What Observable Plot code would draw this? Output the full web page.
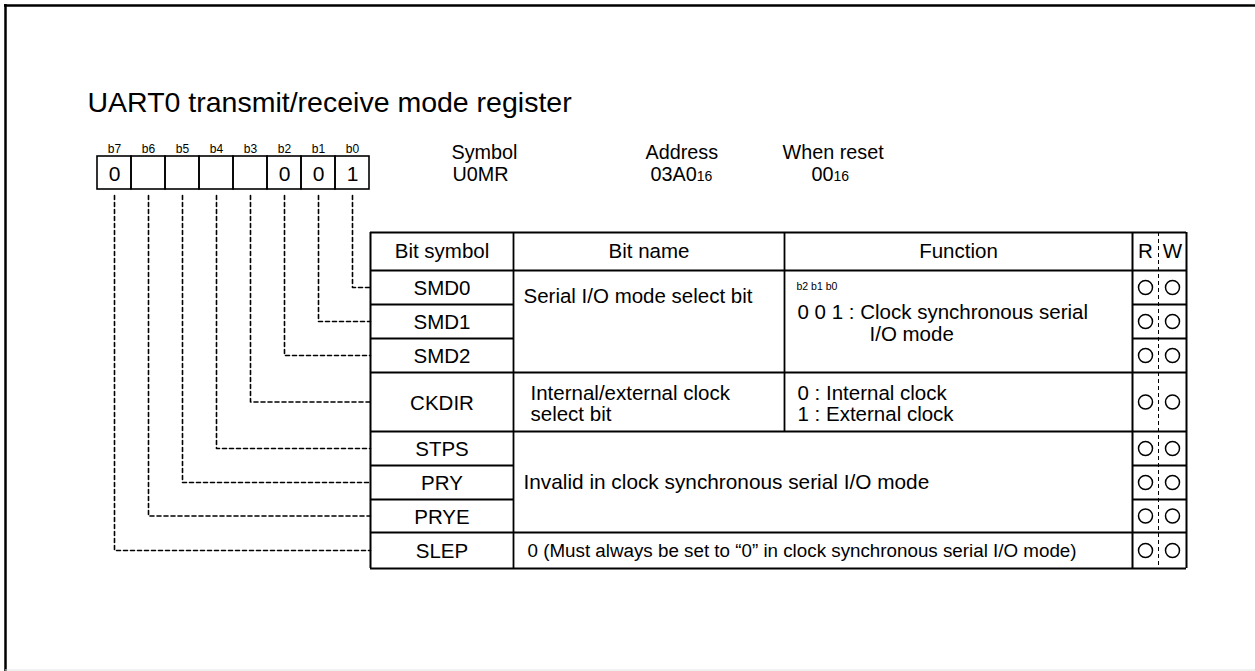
<!DOCTYPE html>
<html>
<head>
<meta charset="utf-8">
<script src="https://cdn.jsdelivr.net/npm/d3@7"></script>
<script src="https://cdn.jsdelivr.net/npm/@observablehq/plot@0.6"></script>
<style>
  html, body { margin: 0; padding: 0; background: #fff; }
  #chart svg { display: block; }
</style>
</head>
<body>
<div id="chart"></div>
<script>
// ---------------- data ----------------
const titleText = "UART0 transmit/receive mode register";
const bitLabels = ["b7", "b6", "b5", "b4", "b3", "b2", "b1", "b0"];
const bitValues = ["0", "", "", "", "", "0", "0", "1"];
const infoHeads = ["Symbol", "Address", "When reset"];
const infoValues = ["U0MR", "03A0", "00"];
const infoSubs = ["", "16", "16"];
const columnHeads = ["Bit symbol", "Bit name", "Function", "R", "W"];
const bitSymbols = ["SMD0", "SMD1", "SMD2", "CKDIR", "STPS", "PRY", "PRYE", "SLEP"];
const symbolBits = ["b0", "b1", "b2", "b3", "b4", "b5", "b6", "b7"];
const readable = [true, true, true, true, true, true, true, true];
const writable = [true, true, true, true, true, true, true, true];
const nameGroups = [[0, 2], [3, 3], [4, 6], [7, 7]];
const nameTexts = [
  ["Serial I/O mode select bit"],
  ["Internal/external clock", "select bit"],
  ["Invalid in clock synchronous serial I/O mode"],
  ["0 (Must always be set to \u201c0\u201d in clock synchronous serial I/O mode)"]
];
const spansFunction = [false, false, true, true];
const functionHeads = ["b2 b1 b0", "", "", ""];
const functionTexts = [
  ["0 0 1 : Clock synchronous serial", "I/O mode"],
  ["0 : Internal clock", "1 : External clock"],
  [],
  []
];

// ---------------- layout ----------------
const W = 1255, H = 671;
const FONT = "'Liberation Sans', Arial, Helvetica, sans-serif";
const L = {
  frame: {x: 5, y: 5, bottom: 669.5},
  title: {x: 87, y: 102, size: 28.5},
  reg: {x0: 97, cell: 34, top: 156, bottom: 189, labelY: 149, labelSize: 12, valueSize: 21},
  info: {x: [451, 645, 782], valueDx: [1, 5, 29], headY: 152.5, valueY: 174, size: 19.8, subSize: 14},
  table: {
    cols: [370, 513, 784, 1132, 1158, 1186],
    top: 232,
    rows: [270, 304, 338, 372, 431, 465, 499, 532, 568],
    size: 20.5
  },
  nameX: [523, 530, 523, 527],
  nameSize: [20.5, 20.5, 20.8, 18.8],
  nameDy: [[26], [21, 42], [51], [18]],
  funcX: [[797, 869], [797, 797]],
  funcDy: [[41.5, 64], [21, 42]],
  funcHead: {dx: 12, dy: 16, size: 10.5},
  connectorTop: 195,
  dotR: 7
};

// ---------------- derived geometry ----------------
const T = L.table;
const [cSym, cName, cFunc, cR, cRW, cEnd] = T.cols;
const rowTop = i => T.rows[i];
const rowBot = i => T.rows[i + 1];
const rowMid = i => (T.rows[i] + T.rows[i + 1]) / 2;

const ctx = document.createElement("canvas").getContext("2d");
function textWidth(s, size) { ctx.font = `${size}px 'Liberation Sans', Arial, sans-serif`; return ctx.measureText(s).width; }

// register cells
const regCells = bitLabels.map((b, i) => ({
  label: b, value: bitValues[i],
  x1: L.reg.x0 + i * L.reg.cell, x2: L.reg.x0 + (i + 1) * L.reg.cell,
  cx: L.reg.x0 + (i + 0.5) * L.reg.cell
}));
const cellX = Object.fromEntries(regCells.map(c => [c.label, c.cx]));

// connectors
const connectors = [];
bitSymbols.forEach((s, i) => {
  const cx = cellX[symbolBits[i]];
  connectors.push({z: s, x: cx, y: L.connectorTop});
  connectors.push({z: s, x: cx, y: rowMid(i)});
  connectors.push({z: s, x: cSym, y: rowMid(i)});
});

// table lines
const hLines = [
  {y: T.top, x1: cSym, x2: cEnd, w: 2},
  {y: T.rows[0], x1: cSym, x2: cEnd, w: 2},
  {y: T.rows[T.rows.length - 1], x1: cSym, x2: cEnd, w: 2}
];
for (let i = 0; i < bitSymbols.length - 1; i++) {
  const groupEnd = nameGroups.some(g => g[1] === i);
  if (groupEnd) hLines.push({y: rowBot(i), x1: cSym, x2: cEnd, w: 1.8});
  else {
    hLines.push({y: rowBot(i), x1: cSym, x2: cName, w: 1.8});
    hLines.push({y: rowBot(i), x1: cR, x2: cEnd, w: 1.8});
  }
}
const lastFuncSplitRow = Math.max(...nameGroups.filter((g, k) => !spansFunction[k]).map(g => g[1]));
const vLines = [
  {x: cSym, y1: T.top, y2: rowBot(7), w: 2},
  {x: cName, y1: T.top, y2: rowBot(7), w: 1.8},
  {x: cFunc, y1: T.top, y2: rowBot(lastFuncSplitRow), w: 1.8},
  {x: cR, y1: T.top, y2: rowBot(7), w: 2},
  {x: cEnd, y1: T.top, y2: rowBot(7), w: 2}
];

// texts
const headXs = [(cSym + cName) / 2, (cName + cFunc) / 2, (cFunc + cR) / 2, (cR + cRW) / 2, (cRW + cEnd) / 2];
const headTexts = columnHeads.map((t, k) => ({t, x: headXs[k], y: (T.top + T.rows[0]) / 2}));
const symTexts = bitSymbols.map((s, i) => ({t: s, x: (cSym + cName) / 2, y: rowMid(i) + 1}));
const leftTexts = [];
nameTexts.forEach((lines, k) => {
  lines.forEach((t, j) => leftTexts.push({t, x: L.nameX[k], y: rowTop(nameGroups[k][0]) + L.nameDy[k][j], s: L.nameSize[k]}));
});
functionTexts.forEach((lines, k) => {
  lines.forEach((t, j) => leftTexts.push({t, x: L.funcX[k][j], y: rowTop(nameGroups[k][0]) + L.funcDy[k][j], s: T.size}));
});
const smallTexts = functionHeads.map((t, k) => ({t, x: cFunc + L.funcHead.dx, y: rowTop(nameGroups[k][0]) + L.funcHead.dy})).filter(d => d.t);

// register info
const infoHeadTexts = infoHeads.map((t, k) => ({t, x: L.info.x[k], y: L.info.headY}));
const infoValTexts = infoValues.map((t, k) => ({t, x: L.info.x[k] + L.info.valueDx[k], y: L.info.valueY}));
const infoSubTexts = infoSubs.map((t, k) => ({
  t, x: L.info.x[k] + L.info.valueDx[k] + textWidth(infoValues[k], L.info.size),
  y: L.info.valueY + 0.32 * (L.info.size - L.info.subSize)
})).filter(d => d.t);

// R/W dots
const dots = [];
bitSymbols.forEach((s, i) => {
  if (readable[i]) dots.push({x: (cR + cRW) / 2, y: rowMid(i)});
  if (writable[i]) dots.push({x: (cRW + cEnd) / 2, y: rowMid(i)});
});

const txt = {fontFamily: FONT, fill: "#000", lineAnchor: "middle"};

const plot = Plot.plot({
  width: W, height: H,
  margin: 0,
  x: {domain: [0, W], range: [0, W], axis: null},
  y: {domain: [0, H], range: [0, H], axis: null},
  style: {background: "#fff", fontFamily: FONT},
  marks: [
    // outer frame
    Plot.ruleY([L.frame.y], {x1: L.frame.x - 1, x2: W, stroke: "#000", strokeWidth: 2.5}),
    Plot.ruleX([L.frame.x], {y1: L.frame.y - 1, y2: H, stroke: "#000", strokeWidth: 2.5}),
    Plot.ruleY([L.frame.bottom], {x1: L.frame.x, x2: W, stroke: "#e2e2e2", strokeWidth: 1}),
    // title
    Plot.text([titleText], {x: L.title.x, y: L.title.y, text: d => d, textAnchor: "start", fontSize: L.title.size, ...txt}),
    // register bits
    Plot.rect(regCells, {x1: "x1", x2: "x2", y1: L.reg.top, y2: L.reg.bottom, fill: "none", stroke: "#000", strokeWidth: 1.6}),
    Plot.text(regCells, {x: "cx", y: L.reg.labelY, text: "label", fontSize: L.reg.labelSize, ...txt}),
    Plot.text(regCells, {x: "cx", y: (L.reg.top + L.reg.bottom) / 2 + 1, text: "value", fontSize: L.reg.valueSize, ...txt}),
    // info
    Plot.text(infoHeadTexts, {x: "x", y: "y", text: "t", textAnchor: "start", fontSize: L.info.size, ...txt}),
    Plot.text(infoValTexts, {x: "x", y: "y", text: "t", textAnchor: "start", fontSize: L.info.size, ...txt}),
    Plot.text(infoSubTexts, {x: "x", y: "y", text: "t", textAnchor: "start", fontSize: L.info.subSize, ...txt}),
    // connectors
    Plot.line(connectors, {x: "x", y: "y", z: "z", stroke: "#000", strokeWidth: 1.6, strokeDasharray: "4,3"}),
    // table
    Plot.ruleY(hLines, {y: "y", x1: "x1", x2: "x2", stroke: "#000", strokeWidth: "w"}),
    Plot.ruleX(vLines, {x: "x", y1: "y1", y2: "y2", stroke: "#000", strokeWidth: "w"}),
    Plot.ruleX([cRW], {y1: T.top, y2: rowBot(7), stroke: "#000", strokeWidth: 1, strokeDasharray: "4,3"}),
    Plot.text(headTexts, {x: "x", y: "y", text: "t", fontSize: T.size, ...txt}),
    Plot.text(symTexts, {x: "x", y: "y", text: "t", fontSize: T.size, ...txt}),
    Plot.text(leftTexts, {x: "x", y: "y", text: "t", textAnchor: "start", fontSize: d => d.s, ...txt}),
    Plot.text(smallTexts, {x: "x", y: "y", text: "t", textAnchor: "start", fontSize: L.funcHead.size, ...txt}),
    Plot.dot(dots, {x: "x", y: "y", r: L.dotR, fill: "#fff", stroke: "#000", strokeWidth: 1.5})
  ]
});
document.getElementById("chart").appendChild(plot);
</script>
</body>
</html>
